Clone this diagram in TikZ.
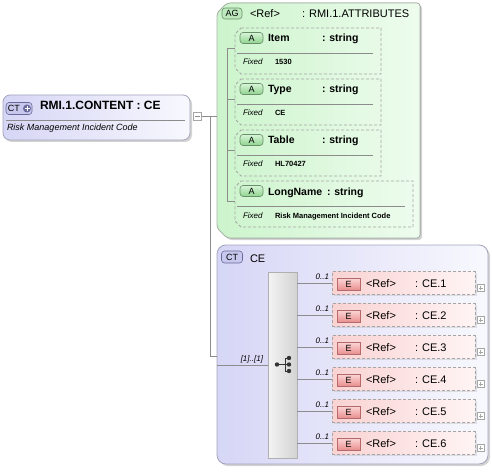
\documentclass[tikz,border=0pt]{standalone}
\usepackage{fontspec}
\setmainfont{Liberation Sans}
\usepackage{tikz}
\usetikzlibrary{positioning, shadows}

\definecolor{ctedge}{HTML}{A4A4BC}
\definecolor{ctleft}{HTML}{D6D6F6}
\definecolor{ctright}{HTML}{F8F8FE}
\definecolor{agleft}{HTML}{CCF4CC}
\definecolor{agright}{HTML}{EEFCEE}
\definecolor{agedge}{HTML}{A8B4A8}
\definecolor{dashgray}{HTML}{A6A6A6}
\definecolor{elleft}{HTML}{FAD2D2}
\definecolor{elright}{HTML}{FFF4F4}
\definecolor{linegray}{HTML}{8C8C8C}
\definecolor{seqleft}{HTML}{F4F4F4}
\definecolor{seqright}{HTML}{D2D2D2}
\definecolor{seqedge}{HTML}{B0B0B0}
\definecolor{ctbadgefill}{HTML}{C8C8EE}
\definecolor{ctbadgeedge}{HTML}{6A6A9A}
\definecolor{agbadgefill}{HTML}{BDE8BD}
\definecolor{agbadgeedge}{HTML}{6A906A}
\definecolor{abadgetop}{HTML}{D8F4D8}
\definecolor{abadgebot}{HTML}{8ED48E}
\definecolor{ebadgetop}{HTML}{FBD4D4}
\definecolor{ebadgebot}{HTML}{E88C8C}
\definecolor{ebadgeedge}{HTML}{B46A6A}

\begin{document}
\begin{tikzpicture}[x=1pt, y=-1pt,
  every node/.style={inner sep=0pt, outer sep=0pt},
  ct box/.style={rectangle, rounded corners=7pt, draw=ctedge, line width=0.8pt,
    left color=ctleft, right color=ctright, anchor=north west,
    drop shadow={shadow xshift=2pt, shadow yshift=-2pt, opacity=0.35}},
  attr box/.style={rectangle, anchor=north west, minimum height=46pt},
  attr edge/.style={draw=dashgray, line width=0.8pt, dash pattern=on 3pt off 2pt},
  elem box/.style={rectangle, anchor=west, draw=dashgray, line width=0.8pt,
    dash pattern=on 3pt off 2pt, left color=elleft, right color=elright,
    minimum width=143pt, minimum height=23pt},
  seq box/.style={rectangle, draw=seqedge, line width=0.6pt, left color=seqleft,
    right color=seqright, minimum width=29pt, minimum height=186pt},
  ct badge/.style={rectangle, rounded corners=3pt, draw=ctbadgeedge, fill=ctbadgefill,
    line width=0.6pt, minimum height=12pt, font=\fontsize{9}{10}\selectfont},
  ag badge/.style={rectangle, rounded corners=3pt, draw=agbadgeedge, fill=agbadgefill,
    line width=0.6pt, minimum width=20pt, minimum height=11pt, font=\fontsize{9}{10}\selectfont},
  a badge/.style={rectangle, rounded corners=3pt, draw=agbadgeedge, top color=abadgetop,
    bottom color=abadgebot, line width=0.6pt, minimum width=23pt, minimum height=11pt,
    font=\fontsize{9}{10}\selectfont},
  e badge/.style={rectangle, draw=ebadgeedge, top color=ebadgetop, bottom color=ebadgebot,
    line width=0.6pt, minimum width=23pt, minimum height=12pt, font=\fontsize{9}{10}\selectfont},
  tiny box/.style={rectangle, draw=dashgray, fill=white, line width=0.5pt,
    minimum width=8pt, minimum height=8pt},
  title/.style={anchor=base west, font=\bfseries\fontsize{12}{14}\selectfont},
  desc/.style={anchor=base west, font=\itshape\fontsize{9}{10}\selectfont},
  head/.style={anchor=base west, font=\fontsize{11}{13}\selectfont},
  aname/.style={anchor=base west, font=\bfseries\fontsize{10.5}{12}\selectfont},
  fixed/.style={anchor=base west, font=\itshape\fontsize{8}{9}\selectfont},
  fixval/.style={anchor=base west, font=\bfseries\fontsize{7.5}{9}\selectfont},
  card/.style={anchor=base east, font=\itshape\fontsize{8}{9}\selectfont},
  sepline/.style={draw=linegray, line width=0.6pt},
  conn/.style={draw=linegray, line width=0.7pt}]

\useasboundingbox (0,0) rectangle (492,473);

% complex type RMI.1.CONTENT
\node[ct box, minimum width=187pt, minimum height=45pt] (content) at (3,95) {};
\node[ct badge, minimum width=26pt] (ctbadge) at (19,108.5) {};
\node[anchor=west, font=\fontsize{9}{10}\selectfont] (ctbadgetext) at (8,108.5) {CT};
\node[circle, fill=ctbadgeedge, minimum size=8pt] (ctplus) at (27,108.5) {};
\draw[white, line width=1pt] ([xshift=1.5pt]ctplus.west) -- ([xshift=-1.5pt]ctplus.east)
  ([yshift=-1.5pt]ctplus.north) -- ([yshift=1.5pt]ctplus.south);
\node[title] (contentname) at (40,110) {RMI.1.CONTENT : CE};
\draw[sepline] (6,120) -- (185,120);
\node[desc] (contentdesc) at (7,131) {Risk Management Incident Code};
\node[tiny box] (collapse) at (197.5,116.5) {};
\draw[linegray, line width=0.6pt] ([xshift=1.5pt]collapse.west) -- ([xshift=-1.5pt]collapse.east);

% attribute group
\node[rectangle, anchor=north west, minimum width=203pt, minimum height=235pt] (attrs) at (217,3) {};
\filldraw[draw=agedge, line width=0.8pt, left color=agleft, right color=agright,
  rounded corners=3pt, drop shadow={shadow xshift=2pt, shadow yshift=-2pt, opacity=0.35}]
  ([xshift=10pt]attrs.north west) -- (attrs.north east) -- (attrs.south east)
  -- ([xshift=10pt]attrs.south west) -- ([yshift=10pt]attrs.south west)
  -- ([yshift=-10pt]attrs.north west) -- cycle;
\node[ag badge] (agbadge) at (232,13.5) {AG};
\node[head] (agref) at (250,18) {<Ref>};
\node[head] (agname) at (302,18) {: RMI.1.ATTRIBUTES};

\foreach \n/\t/\w/\tx/\lab/\val in {item/28/146/322/Item/1530, type/79/146/322/Type/CE,
    table/130/146/322/Table/HL70427,
    longname/181/178/327/LongName/Risk Management Incident Code}{
  \node[attr box, minimum width=\w pt] (\n) at (235,\t) {};
  \draw[attr edge] ([xshift=6pt]\n.north west) -- (\n.north east) -- (\n.south east)
    -- ([xshift=6pt]\n.south west) -- ([yshift=6pt]\n.south west)
    -- ([yshift=-6pt]\n.north west) -- cycle;
  \node[a badge] (\n-badge) at (251.5,\t+10) {A};
  \node[aname] (\n-name) at (268,\t+14) {\lab};
  \node[aname] (\n-type) at (\tx,\t+14) {: string};
  \draw[sepline] (237,\t+25) -- (227+\w,\t+25);
  \node[fixed] (\n-fixed) at (243,\t+37) {Fixed};
  \node[fixval] (\n-value) at (275,\t+37) {\val};
  \coordinate (\n-tick) at (227,\t+20);
  \draw[conn] (\n-tick) -- (\n-tick -| \n.west);
}
\draw[conn] (item-tick) -- (longname-tick);

% complex type CE
\node[ct box, rounded corners=9pt, minimum width=271pt, minimum height=219pt] (cebox) at (217,245) {};
\node[ct badge, minimum width=21pt] (cebadge) at (232,257) {CT};
\node[head] (cename) at (250,262) {CE};
\node[seq box] (seq) at (282.5,365) {};
\fill[black!80] (277,364.5) circle (2.2) (289,358) circle (2.2)
  (289,364.5) circle (2.2) (289,371) circle (2.2);
\draw[black!80, line width=0.9pt] (277,364.5) -- (285,364.5) (285,358) -- (285,371)
  (285,358) -- (289,358) (285,371) -- (289,371) (285,364.5) -- (289,364.5);
\coordinate (seqin) at (217,365);
\draw[conn] (seqin) -- (seq.west);
\node[card] (seqcard) at (263,361) {[1]..[1]};

% link from RMI.1.CONTENT
\coordinate (fork) at (210,116.5);
\coordinate (ceentry) at (217,356);
\draw[conn] (collapse.east) -- (attrs.west |- collapse.east);
\draw[conn] (fork) |- (ceentry);

% elements
\foreach \i in {1,...,6}{
  \pgfmathsetmacro\yc{283+32*(\i-1)}
  \node[elem box, drop shadow={shadow xshift=1.5pt, shadow yshift=-1.5pt, opacity=0.2}] (ce-\i) at (332,\yc) {};
  \node[e badge] (ce-\i-badge) at (348.5,\yc+1.5) {E};
  \node[head] (ce-\i-ref) at (366,\yc+4) {<Ref>};
  \node[head] (ce-\i-name) at (415,\yc+4) {: CE.\i};
  \node[tiny box, minimum width=7pt, minimum height=7pt] (ce-\i-plus) at (480.5,\yc+5) {};
  \draw[dashgray, line width=0.5pt] ([xshift=1.5pt]ce-\i-plus.west) -- ([xshift=-1.5pt]ce-\i-plus.east)
    ([yshift=-1.5pt]ce-\i-plus.north) -- ([yshift=1.5pt]ce-\i-plus.south);
  \draw[conn] (seq.east |- ce-\i.west) -- (ce-\i.west);
  \node[card] (ce-\i-card) at (329,\yc-4) {0..1};
}

\end{tikzpicture}
\end{document}
